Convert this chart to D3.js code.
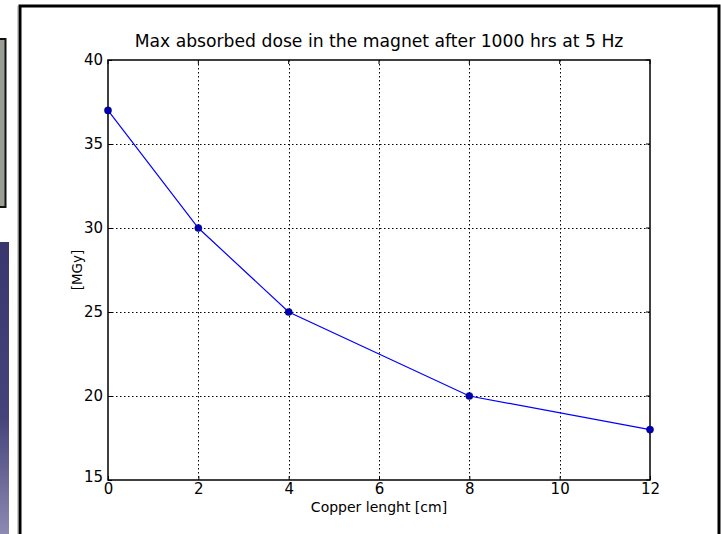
<!DOCTYPE html>
<html>
<head>
<meta charset="utf-8">
<script src="https://cdn.jsdelivr.net/npm/d3@7"></script>
<style>
  html, body { margin: 0; padding: 0; background: #fff; }
  svg { display: block; font-family: "DejaVu Sans", sans-serif; }
</style>
</head>
<body>
<svg id="chart" width="721" height="534"></svg>
<script>
// copper length (cm) vs max absorbed dose (MGy)
var copperLength = [0, 2, 4, 8, 12];
var maxDose = [37, 30, 25, 20, 18];
var xTicks = [0, 2, 4, 6, 8, 10, 12];
var yTicks = [15, 20, 25, 30, 35, 40];

var svg = d3.select("#chart");

// bits of the surrounding slide on the left edge
var defs = svg.append("defs");
var grad = defs.append("linearGradient")
    .attr("id", "sideBar")
    .attr("x1", 0).attr("y1", 0).attr("x2", 0).attr("y2", 1);
grad.append("stop").attr("offset", "0%").attr("stop-color", "#3a376e");
grad.append("stop").attr("offset", "60%").attr("stop-color", "#46437a");
grad.append("stop").attr("offset", "100%").attr("stop-color", "#8c8ab2");

svg.append("rect")
    .attr("x", -2).attr("y", 39).attr("width", 7.5).attr("height", 168)
    .attr("fill", "#9a9d93").attr("stroke", "#111").attr("stroke-width", 2);
svg.append("rect")
    .attr("x", 0).attr("y", 242).attr("width", 9).attr("height", 292)
    .attr("fill", "url(#sideBar)");

// the framed figure
svg.append("line")
    .attr("x1", 17.5).attr("x2", 17.5).attr("y1", 6).attr("y2", 534)
    .attr("stroke", "#ccc").attr("stroke-width", 1);
svg.append("path")
    .attr("d", "M20,534 V6 H719 V534")
    .attr("fill", "none").attr("stroke", "#000").attr("stroke-width", 3);

var margin = {left: 108, top: 60, right: 650, bottom: 480};

var x = d3.scaleLinear().domain([0, 12]).range([margin.left, margin.right]);
var y = d3.scaleLinear().domain([15, 40]).range([margin.bottom, margin.top]);

// grid
var grid = svg.append("g").attr("class", "grid");
grid.selectAll("line.vx")
    .data(xTicks.slice(1, -1))
    .enter().append("line")
    .attr("x1", function(d) { return Math.round(x(d)) + 0.5; })
    .attr("x2", function(d) { return Math.round(x(d)) + 0.5; })
    .attr("y1", margin.top).attr("y2", margin.bottom)
    .attr("stroke", "#000").attr("stroke-width", 1)
    .attr("stroke-dasharray", "1.5,2.5");
grid.selectAll("line.hy")
    .data(yTicks.slice(1, -1))
    .enter().append("line")
    .attr("y1", function(d) { return Math.round(y(d)) + 0.5; })
    .attr("y2", function(d) { return Math.round(y(d)) + 0.5; })
    .attr("x1", margin.left).attr("x2", margin.right)
    .attr("stroke", "#000").attr("stroke-width", 1)
    .attr("stroke-dasharray", "1.5,2.5");

// axes (matplotlib style: inward ticks, labels outside)
var xAxis = d3.axisBottom(x).tickValues(xTicks).tickSizeInner(-4).tickSizeOuter(0).tickPadding(8);
var yAxis = d3.axisLeft(y).tickValues(yTicks).tickSizeInner(-4).tickSizeOuter(0).tickPadding(5);

var gx = svg.append("g")
    .attr("transform", "translate(0," + margin.bottom + ")")
    .call(xAxis);
var gy = svg.append("g")
    .attr("transform", "translate(" + margin.left + ",0)")
    .call(yAxis);

[gx, gy].forEach(function(g) {
    g.select(".domain").remove();
    g.selectAll(".tick line").attr("stroke", "#000");
    g.selectAll(".tick text")
        .attr("fill", "#000")
        .style("font-family", "'DejaVu Sans', sans-serif")
        .style("font-size", "15px");
});
gy.selectAll(".tick text").attr("dy", "0.32em");
gx.selectAll(".tick text").attr("dy", "0.4em");
// the 15 label sits a little higher, like the original
gy.selectAll(".tick text").filter(function(d) { return d === 15; }).attr("dy", "0.12em");

// top / right inward ticks
svg.append("g").selectAll("line")
    .data(xTicks)
    .enter().append("line")
    .attr("x1", function(d) { return x(d); }).attr("x2", function(d) { return x(d); })
    .attr("y1", margin.top).attr("y2", margin.top + 4)
    .attr("stroke", "#000");
svg.append("g").selectAll("line")
    .data(yTicks)
    .enter().append("line")
    .attr("y1", function(d) { return y(d); }).attr("y2", function(d) { return y(d); })
    .attr("x1", margin.right).attr("x2", margin.right - 4)
    .attr("stroke", "#000");

// frame
svg.append("rect")
    .attr("x", margin.left).attr("y", margin.top)
    .attr("width", margin.right - margin.left)
    .attr("height", margin.bottom - margin.top)
    .attr("fill", "none").attr("stroke", "#000").attr("stroke-width", 1.5);

// data line + markers
var pts = copperLength.map(function(d, i) { return [d, maxDose[i]]; });
var line = d3.line()
    .x(function(d) { return x(d[0]); })
    .y(function(d) { return y(d[1]); });

svg.append("path")
    .datum(pts)
    .attr("d", line)
    .attr("fill", "none")
    .attr("stroke", "#0000ff")
    .attr("stroke-width", 1.2);

svg.append("g").selectAll("circle")
    .data(pts)
    .enter().append("circle")
    .attr("cx", function(d) { return x(d[0]); })
    .attr("cy", function(d) { return y(d[1]); })
    .attr("r", 3.6)
    .attr("fill", "#0000b0")
    .attr("stroke", "#000080")
    .attr("stroke-width", 0.5);

// texts
svg.append("text")
    .attr("x", (margin.left + margin.right) / 2)
    .attr("y", 47)
    .attr("text-anchor", "middle")
    .style("font-size", "17.2px")
    .text("Max absorbed dose in the magnet after 1000 hrs at 5 Hz");

svg.append("text")
    .attr("x", (margin.left + margin.right) / 2)
    .attr("y", 512)
    .attr("text-anchor", "middle")
    .style("font-size", "14px")
    .text("Copper lenght [cm]");

svg.append("text")
    .attr("transform", "translate(82," + ((margin.top + margin.bottom) / 2) + ") rotate(-90)")
    .attr("text-anchor", "middle")
    .style("font-size", "13.5px")
    .text("[MGy]");
</script>
</body>
</html>
